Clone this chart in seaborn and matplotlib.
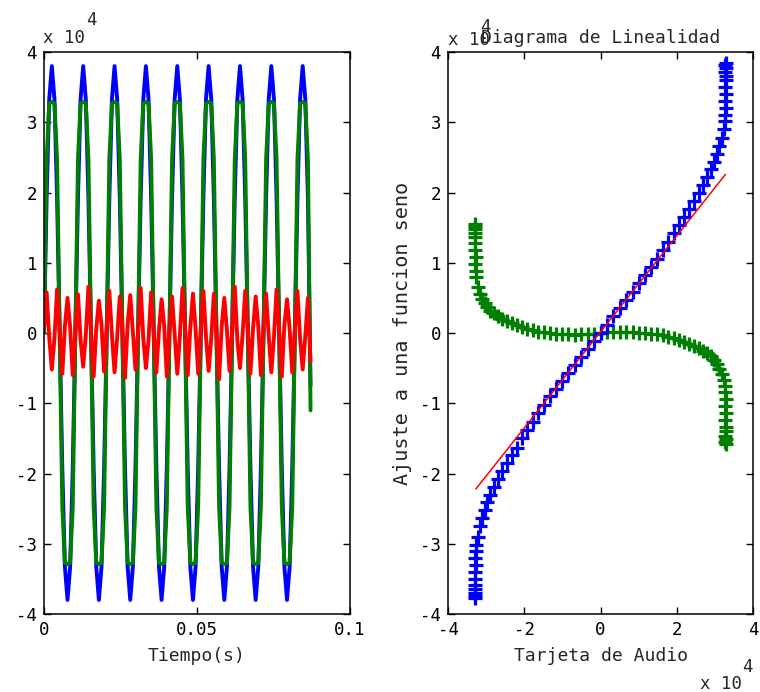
import numpy as np
import matplotlib
matplotlib.use('Agg')
import matplotlib.pyplot as plt
import seaborn as sns

# time step between recorded samples (s)
SAMPLE_DT = 0.000854

# left panel: signals in units of 1e4 counts, one row per period of the tone
blue_signal = [
    0.0, 1.92, 3.33, 3.8, 3.33, 1.92, 0.0, -1.92, -3.33, -3.8, -3.33, -1.92,
    0.0, 1.92, 3.33, 3.8, 3.33, 1.92, 0.0, -1.92, -3.33, -3.8, -3.33, -1.92,
    0.0, 1.92, 3.33, 3.8, 3.33, 1.92, 0.0, -1.92, -3.33, -3.8, -3.33, -1.92,
    0.0, 1.92, 3.33, 3.8, 3.33, 1.92, 0.0, -1.92, -3.33, -3.8, -3.33, -1.92,
    0.0, 1.92, 3.33, 3.8, 3.33, 1.92, 0.0, -1.92, -3.33, -3.8, -3.33, -1.92,
    0.0, 1.92, 3.33, 3.8, 3.33, 1.92, 0.0, -1.92, -3.33, -3.8, -3.33, -1.92,
    0.0, 1.92, 3.33, 3.8, 3.33, 1.92, 0.0, -1.92, -3.33, -3.8, -3.33, -1.92,
    0.0, 1.92, 3.33, 3.8, 3.33, 1.92, 0.0, -1.92, -3.33, -3.8, -3.33, -1.92,
    0.0, 1.92, 3.33, 3.8, 3.33, 1.92, -0.75,
]
green_signal = [
    0.0, 2.48, 3.27, 3.29, 3.27, 2.48, 0.0, -2.48, -3.27, -3.29, -3.27, -2.48,
    0.0, 2.48, 3.27, 3.29, 3.27, 2.48, 0.0, -2.48, -3.27, -3.29, -3.27, -2.48,
    0.0, 2.48, 3.27, 3.29, 3.27, 2.48, 0.0, -2.48, -3.27, -3.29, -3.27, -2.48,
    0.0, 2.48, 3.27, 3.29, 3.27, 2.48, 0.0, -2.48, -3.27, -3.29, -3.27, -2.48,
    0.0, 2.48, 3.27, 3.29, 3.27, 2.48, 0.0, -2.48, -3.27, -3.29, -3.27, -2.48,
    0.0, 2.48, 3.27, 3.29, 3.27, 2.48, 0.0, -2.48, -3.27, -3.29, -3.27, -2.48,
    0.0, 2.48, 3.27, 3.29, 3.27, 2.48, 0.0, -2.48, -3.27, -3.29, -3.27, -2.48,
    0.0, 2.48, 3.27, 3.29, 3.27, 2.48, 0.0, -2.48, -3.27, -3.29, -3.27, -2.48,
    0.0, 2.48, 3.27, 3.29, 3.27, 2.48, -1.1,
]
red_signal = [
    0.05, 0.58, -0.06, -0.52, -0.08, 0.62, 0.04, -0.58, 0.10, 0.50, 0.08, -0.60,
    0.02, 0.55, -0.10, -0.48, -0.02, 0.66, 0.00, -0.62, 0.06, 0.46, 0.12, -0.55,
    0.08, 0.60, -0.04, -0.56, -0.06, 0.52, 0.06, -0.64, 0.12, 0.54, 0.02, -0.52,
    0.00, 0.64, -0.08, -0.50, -0.10, 0.58, 0.02, -0.56, 0.04, 0.48, 0.10, -0.62,
    0.06, 0.52, -0.02, -0.58, -0.04, 0.64, 0.08, -0.60, 0.08, 0.56, 0.06, -0.58,
    0.04, 0.60, -0.06, -0.54, -0.08, 0.56, 0.00, -0.66, 0.10, 0.50, 0.04, -0.54,
    0.02, 0.66, -0.10, -0.50, -0.02, 0.60, 0.06, -0.58, 0.06, 0.52, 0.10, -0.60,
    0.08, 0.56, -0.04, -0.56, -0.06, 0.62, 0.02, -0.62, 0.12, 0.48, 0.06, -0.56,
    0.04, 0.60, -0.08, -0.52, -0.04, 0.50, -0.40,
]

# right panel: audio card reading vs fitted sine (units of 1e4)
audio_x = [
    -3.29, -3.28, -3.29, -3.28, -3.29, -3.28, -3.29, -3.27, -3.28, -3.27, -3.26,
    -3.22, -3.15, -3.10, -3.04, -2.97, -2.89, -2.80, -2.70, -2.58, -2.46, -2.33,
    -2.20, -2.06, -1.92, -1.78, -1.63, -1.48, -1.32, -1.16, -1.00, -0.84, -0.67,
    -0.50, -0.34, -0.17,
    0.00, 0.17, 0.34, 0.50, 0.67, 0.84, 1.00, 1.16, 1.32, 1.48, 1.63, 1.78,
    1.93, 2.07, 2.20, 2.33, 2.46, 2.58, 2.70, 2.80, 2.90, 2.98, 3.06, 3.12,
    3.18, 3.23,
    3.26, 3.27, 3.28, 3.27, 3.28, 3.27, 3.28, 3.28, 3.27, 3.28, 3.27, 3.28,
]
sine_fit = [
    -3.77, -3.74, -3.70, -3.65, -3.58, -3.50, -3.40, -3.30, -3.20, -3.10, -3.02,
    -2.90, -2.75, -2.63, -2.52, -2.41, -2.30, -2.19, -2.08, -1.96, -1.85, -1.74,
    -1.63, -1.50, -1.38, -1.26, -1.14, -1.02, -0.90, -0.79, -0.68, -0.57, -0.46,
    -0.34, -0.23, -0.11,
    0.00, 0.12, 0.24, 0.35, 0.47, 0.59, 0.71, 0.82, 0.94, 1.06, 1.18, 1.30,
    1.42, 1.54, 1.65, 1.77, 1.88, 2.00, 2.11, 2.22, 2.33, 2.44, 2.55, 2.66,
    2.78, 2.90,
    3.02, 3.10, 3.20, 3.30, 3.40, 3.50, 3.60, 3.66, 3.72, 3.77, 3.81, 3.84,
]
residual = [
    1.55, 1.52, 1.48, 1.43, 1.36, 1.28, 1.18, 1.08, 0.98, 0.88, 0.80,
    0.66, 0.56, 0.49, 0.43, 0.37, 0.32, 0.28, 0.24, 0.20, 0.17, 0.14,
    0.11, 0.08, 0.06, 0.04, 0.02, 0.01, 0.00, -0.01, -0.02, -0.02, -0.03,
    -0.02, -0.02, -0.01,
    0.00, 0.01, 0.01, 0.02, 0.01, 0.01, 0.00, 0.00, -0.01, -0.02, -0.03, -0.05,
    -0.07, -0.10, -0.13, -0.16, -0.18, -0.21, -0.25, -0.29, -0.33, -0.38, -0.44, -0.51,
    -0.59, -0.67,
    -0.76, -0.84, -0.94, -1.04, -1.14, -1.24, -1.34, -1.40, -1.46, -1.51, -1.55, -1.58,
]
# straight line fit end points
line_x = [-3.27, 3.28]
line_y = [-2.22, 2.26]

time_ticks = [0, 0.05, 0.1]
time_labels = ['0', '0.05', '0.1']
value_ticks = [-4, -3, -2, -1, 0, 1, 2, 3, 4]
audio_ticks = [-4, -2, 0, 2, 4]

BLUE = (0, 0, 1)
GREEN = (0, 0.5, 0)
RED = (1, 0, 0)

sns.set_style('white')
plt.rcParams['font.family'] = ['DejaVu Sans Mono']
plt.rcParams['axes.unicode_minus'] = False

fig = plt.figure(figsize=(7.6, 6.92), dpi=100)
ax1 = fig.add_axes([0.0579, 0.1127, 0.4026, 0.8121])
ax2 = fig.add_axes([0.5895, 0.1127, 0.4013, 0.8121])

t = np.arange(len(blue_signal)) * SAMPLE_DT
for sig, col in [(blue_signal, BLUE), (green_signal, GREEN), (red_signal, RED)]:
    sns.lineplot(x=t, y=sig, ax=ax1, color=col, lw=2.8, sort=False, estimator=None)

ax1.set_xlim(0, 0.1)
ax1.set_ylim(-4, 4)
ax1.set_xticks(time_ticks)
ax1.set_xticklabels(time_labels)
ax1.set_yticks(value_ticks)
ax1.set_xlabel('Tiempo(s)', fontsize=13, labelpad=6)

sns.scatterplot(x=audio_x, y=residual, ax=ax2, marker='+', color=GREEN, s=100, linewidth=2.3)
sns.scatterplot(x=audio_x, y=sine_fit, ax=ax2, marker='+', color=BLUE, s=100, linewidth=2.3)
sns.lineplot(x=line_x, y=line_y, ax=ax2, color=RED, lw=1.1)

ax2.set_xlim(-4, 4)
ax2.set_ylim(-4, 4)
ax2.set_xticks(audio_ticks)
ax2.set_yticks(value_ticks)
ax2.set_xlabel('Tarjeta de Audio', fontsize=13, labelpad=6)
ax2.set_ylabel('Ajuste a una funcion seno', fontsize=14.5, labelpad=6)
ax2.set_title('Diagrama de Linealidad', fontsize=13, pad=6.5)

for ax in (ax1, ax2):
    ax.tick_params(direction='in', length=5, width=1, top=True, right=True,
                   bottom=True, left=True, colors='black', labelsize=12.5, pad=5)
    for sp in ax.spines.values():
        sp.set_color('black')
        sp.set_linewidth(1.1)

# exponent markers as drawn by the original plotting tool
fig.text(43 / 760, 1 - 43 / 692, 'x 10', fontsize=12.5, va='baseline')
fig.text(86 / 760, 1 - 25 / 692, '4', fontsize=12.5, va='baseline')
fig.text(448 / 760, 1 - 45 / 692, 'x 10', fontsize=12.5, va='baseline')
fig.text(480 / 760, 1 - 32 / 692, '4', fontsize=12.5, va='baseline')
fig.text(700 / 760, 1 - 689 / 692, 'x 10', fontsize=12.5, va='baseline')
fig.text(742 / 760, 1 - 672 / 692, '4', fontsize=12.5, va='baseline')

fig.savefig('out.png', dpi=100)
